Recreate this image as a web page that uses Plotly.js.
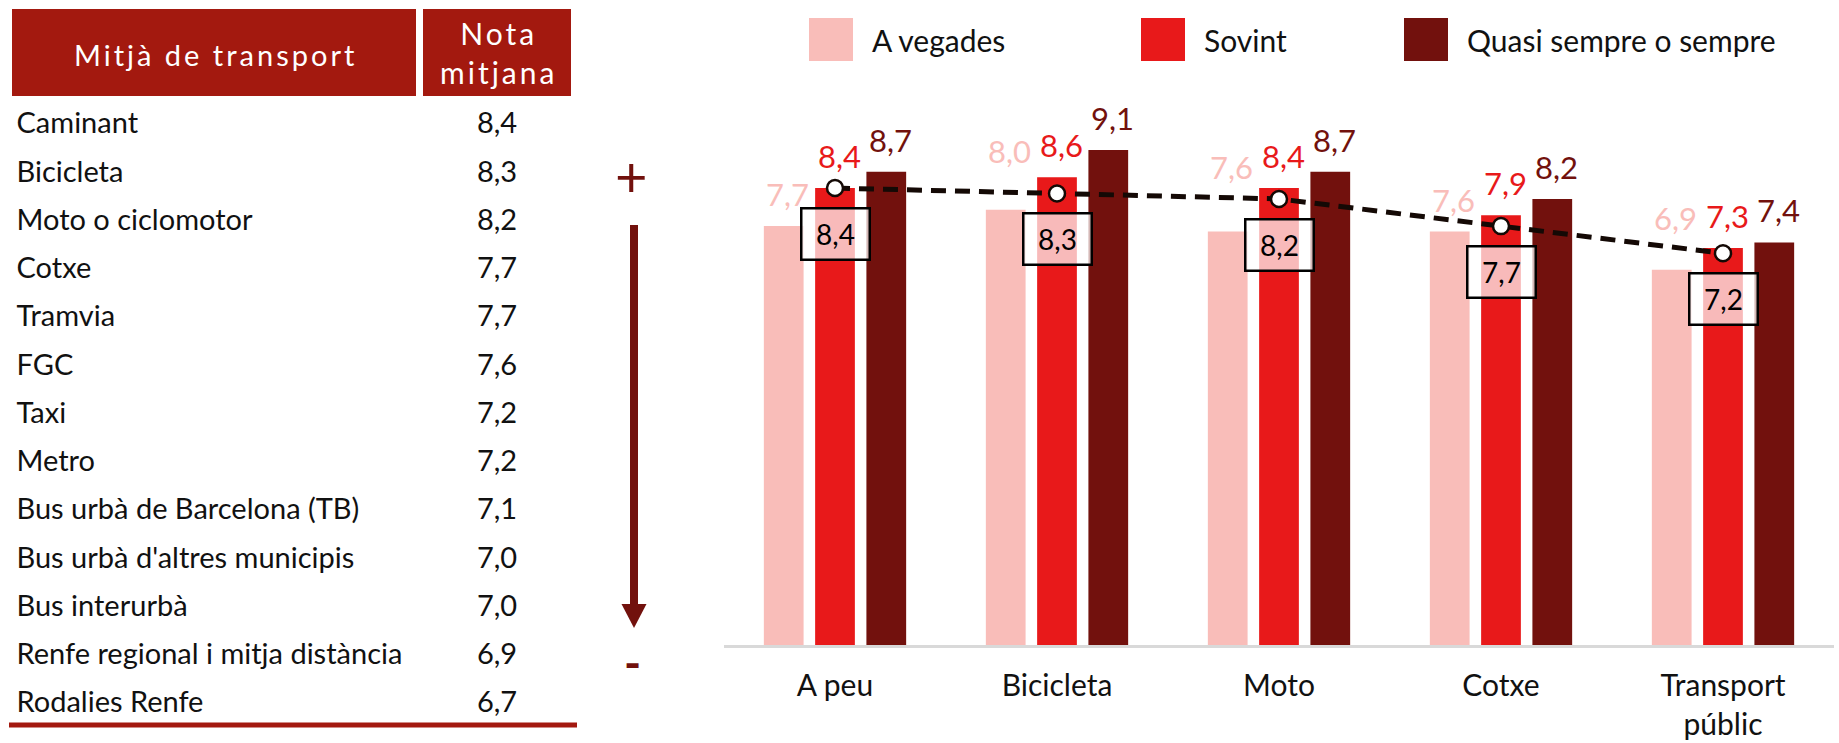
<!DOCTYPE html>
<html>
<head>
<meta charset="utf-8">
<script src="https://cdn.plot.ly/plotly-3.0.1.min.js"></script>
<style>
html,body{margin:0;padding:0;background:#fff;}
#chart{width:1839px;height:743px;}
</style>
</head>
<body>
<div id="chart"></div>
<script>
// ---------- DATA ----------
const tableHeader = ['Mitjà de transport', 'Nota<br>mitjana'];
const modes = ['Caminant', 'Bicicleta', 'Moto o ciclomotor', 'Cotxe', 'Tramvia', 'FGC', 'Taxi', 'Metro',
  'Bus urbà de Barcelona (TB)', "Bus urbà d'altres municipis", 'Bus interurbà',
  'Renfe regional i mitja distància', 'Rodalies Renfe'];
const modeScores = [8.4, 8.3, 8.2, 7.7, 7.7, 7.6, 7.2, 7.2, 7.1, 7.0, 7.0, 6.9, 6.7];

const categories = ['A peu', 'Bicicleta', 'Moto', 'Cotxe', 'Transport<br>públic'];
const seriesNames = ['A vegades', 'Sovint', 'Quasi sempre o sempre'];
const aVegades = [7.7, 8.0, 7.6, 7.6, 6.9];
const sovint = [8.4, 8.6, 8.4, 7.9, 7.3];
const quasiSempre = [8.7, 9.1, 8.7, 8.2, 7.4];
const notaMitjana = [8.4, 8.3, 8.2, 7.7, 7.2];

// ---------- STYLE ----------
const W = 1839, H = 743;
const px = x => x / W;
const py = y => 1 - y / H;
const fmt = v => v.toFixed(1).replace('.', ',');
const colors = ['#f9bdb9', '#e8191a', '#72110d'];
const darkRed = '#72110d';
const headerRed = '#a3190f';
const FONT = 'Lato, "Open Sans", sans-serif';
const bargap = 0.307, bargroupgap = 0.225;
const plotLeft = 724, plotRight = 1834;
const catPx = (plotRight - plotLeft) / categories.length;
const slotPx = (1 - bargap) / 3 * catPx;
// extra lift (px) of the pale labels, as placed in the original
const paleLabelLift = [0, 27, 33, 0, 20];
const tracked = t => '<span style="letter-spacing:3px">' + t.split('<br>').join('</span><br><span style="letter-spacing:3px">') + '</span>';

const series = [aVegades, sovint, quasiSempre];

const traces = series.map((vals, s) => ({
  type: 'bar', name: seriesNames[s], x: categories, y: vals,
  marker: {color: colors[s]}, hoverinfo: 'skip'
}));

traces.push({
  type: 'scatter', mode: 'lines+markers', name: 'Nota mitjana',
  x: categories, y: notaMitjana, cliponaxis: false,
  line: {color: '#140905', width: 5, dash: '15px,9px'},
  marker: {size: 16, color: '#fff', line: {color: '#140905', width: 2.5}},
  hoverinfo: 'skip'
});

traces.push({
  type: 'table',
  domain: {x: [px(8.5), px(574.5)], y: [py(734), py(5.5)]},
  columnwidth: [411, 155],
  header: {
    values: ['', ''],
    align: 'center',
    height: 94,
    fill: {color: headerRed},
    line: {color: '#fff', width: 7},
    font: {family: FONT, size: 29, color: '#fff'}
  },
  cells: {
    values: [modes, modeScores.map(fmt)],
    align: ['left', 'center'],
    height: 48.25,
    fill: {color: '#fff'},
    line: {color: '#fff', width: 7},
    font: {family: FONT, size: 29, color: '#111'}
  }
});

const annotations = [];
// table header labels (centred in the header cells)
annotations.push({xref: 'paper', yref: 'paper', x: px(214 + 1.5), y: py(54), text: tracked(tableHeader[0]),
  showarrow: false, xanchor: 'center', yanchor: 'middle', align: 'center',
  font: {family: FONT, size: 29, color: '#fff'}});
annotations.push({xref: 'paper', yref: 'paper', x: px(497 + 1.5), y: py(53), text: tracked(tableHeader[1]),
  showarrow: false, xanchor: 'center', yanchor: 'middle', align: 'center',
  font: {family: FONT, size: 30, color: '#fff'}});

series.forEach((vals, s) => {
  vals.forEach((v, i) => {
    annotations.push({
      x: categories[i], y: v, xref: 'x', yref: 'y', text: fmt(v), showarrow: false,
      xshift: (s - 1) * slotPx + 4, yshift: 32 + (s === 0 ? paleLabelLift[i] : 0),
      yanchor: 'middle', font: {family: FONT, size: 31, color: colors[s]}
    });
  });
});
notaMitjana.forEach((v, i) => {
  annotations.push({
    x: categories[i], y: v, xref: 'x', yref: 'y', text: fmt(v), showarrow: false,
    yshift: -46, yanchor: 'middle', width: 66, height: 49, borderpad: 0,
    bgcolor: 'rgba(255,255,255,0.7)', bordercolor: '#000', borderwidth: 2.5,
    font: {family: FONT, size: 28, color: '#000'}
  });
});

// legend (large swatches)
const legendSwatchX = [809, 1141, 1404];
const shapes = [];
seriesNames.forEach((n, s) => {
  const x0 = legendSwatchX[s];
  shapes.push({type: 'rect', xref: 'paper', yref: 'paper', x0: px(x0), x1: px(x0 + 44),
    y0: py(61), y1: py(18), fillcolor: colors[s], line: {width: 0}});
  annotations.push({xref: 'paper', yref: 'paper', x: px(x0 + 61), y: py(40), xanchor: 'left',
    yanchor: 'middle', text: n, showarrow: false, font: {family: FONT, size: 30, color: '#111'}});
});

// + / - arrow
shapes.push({type: 'line', xref: 'paper', yref: 'paper', x0: px(634), x1: px(634), y0: py(225), y1: py(606),
  line: {color: darkRed, width: 8}});
shapes.push({type: 'path', xref: 'paper', yref: 'paper',
  path: `M ${px(621.5)},${py(604)} L ${px(646.5)},${py(604)} L ${px(634)},${py(628)} Z`,
  fillcolor: darkRed, line: {width: 0}});
annotations.push({xref: 'paper', yref: 'paper', x: px(631), y: py(176), text: '+', showarrow: false,
  xanchor: 'center', yanchor: 'middle', font: {family: FONT, size: 56, color: darkRed}});
annotations.push({xref: 'paper', yref: 'paper', x: px(632), y: py(662), text: '-', showarrow: false,
  xanchor: 'center', yanchor: 'middle', font: {family: FONT, size: 46, color: darkRed, weight: 'bold'}});

// table bottom rule
shapes.push({type: 'rect', xref: 'paper', yref: 'paper', x0: px(9), x1: px(577), y0: py(727.5), y1: py(722.5),
  fillcolor: headerRed, line: {width: 0}});

const layout = {
  width: W, height: H,
  margin: {l: 0, r: 0, t: 0, b: 0},
  paper_bgcolor: '#fff', plot_bgcolor: 'rgba(0,0,0,0)',
  font: {family: FONT, color: '#111'},
  showlegend: false,
  barmode: 'group', bargap: bargap, bargroupgap: bargroupgap,
  xaxis: {
    domain: [px(plotLeft), px(plotRight)], type: 'category', range: [-0.5, 4.5],
    showline: true, linecolor: '#d9d9d9', linewidth: 3, ticks: '', showgrid: false, zeroline: false,
    tickfont: {family: FONT, size: 30, color: '#111'}, ticklabelstandoff: 12, fixedrange: true
  },
  yaxis: {
    domain: [py(645), py(101)], range: [0, 10], visible: false, showgrid: false, zeroline: false, fixedrange: true
  },
  annotations: annotations,
  shapes: shapes
};

Plotly.newPlot('chart', traces, layout, {staticPlot: true, displayModeBar: false}).then(gd => {
  // table rows sit slightly lower in the original: nudge the cell texts down
  gd.querySelectorAll('.table .cell-text-holder').forEach(holder => {
    const t = holder.getAttribute('transform') || '';
    holder.setAttribute('transform', t + ' translate(0,4)');
  });
});
</script>
</body>
</html>
